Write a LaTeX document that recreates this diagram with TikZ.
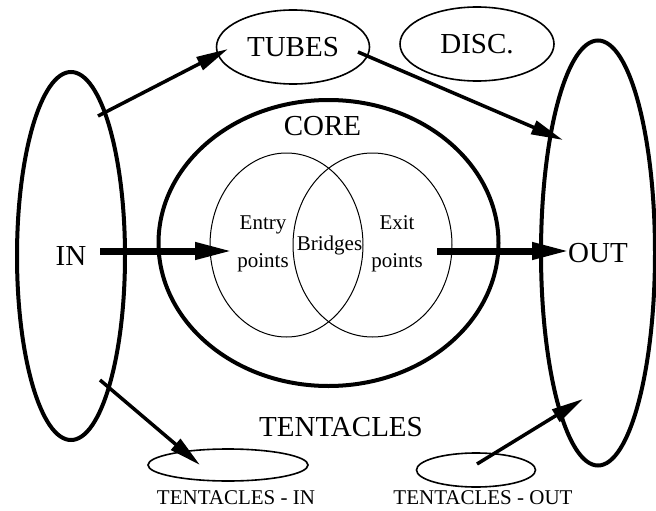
\documentclass[tikz,border=0pt]{standalone}
\usepackage{fontspec}
\setmainfont{Liberation Serif}
\usetikzlibrary{shapes.geometric, arrows.meta, positioning}

\begin{document}
\begin{tikzpicture}[
  x=1pt, y=-1pt,
  every node/.style={font=\fontsize{29}{34}\selectfont},
  small/.style={font=\fontsize{21}{38}\selectfont, align=center},
  bigoval/.style={draw, ellipse, line width=4pt, inner sep=0pt},
  oval/.style={draw, ellipse, line width=1.6pt, inner sep=0pt},
  venn/.style={draw, ellipse, line width=1pt, inner sep=0pt},
  arrow/.style={-{Triangle[length=32pt, width=14pt]}, line width=3.5pt},
  fatarrow/.style={-{Triangle[length=38pt, width=16pt]}, line width=7pt},
]
\useasboundingbox (0,0) rectangle (656,511);

% the big sets
\node[bigoval, minimum width=108pt, minimum height=368pt] (in)   at (71,256)  {IN};
\node[bigoval, minimum width=114pt, minimum height=425pt] (out)  at (598,253) {OUT};
\node[bigoval, minimum width=340pt, minimum height=286pt] (core) at (328.5,243) {};
\node[below=15pt of core.north, xshift=-6pt] (corelbl) {CORE};

% inside the core
\node[venn, minimum width=153pt, minimum height=184pt] (entry) at (286.5,245) {};
\node[venn, minimum width=159pt, minimum height=184pt] (exit)  at (372.5,245) {};
\node[small] (entrylbl)  at (263,244) {Entry\\points};
\node[small] (bridges)   at (329.5,245) {Bridges};
\node[small] (exitlbl)   at (397,244) {Exit\\points};

% tubes and disconnected parts
\node[oval, minimum width=153pt, minimum height=74pt] (tubes) at (293,47) {TUBES};
\node[oval, minimum width=154pt, minimum height=74pt] (disc)  at (477,44) {DISC.};

% tentacles
\node (tentacles) at (341,427) {TENTACLES};
\node[oval, minimum width=160pt, minimum height=32pt] (tin)  at (228,465) {};
\node[oval, minimum width=119pt, minimum height=34pt] (tout) at (476,470) {};
\node[small, inner sep=0pt, below=9pt of tin, xshift=8pt] (tinlbl)  {TENTACLES - IN};
\node[small, inner sep=0pt, below=3pt of tout, xshift=7pt] (toutlbl) {TENTACLES - OUT};

\draw[arrow] ([shift={(27,-140)}]in.center) -- ([shift={(-65,2)}]tubes.center);
\draw[arrow] ([shift={(65,5)}]tubes.center) -- ([shift={(-35,-113)}]out.center);
\draw[fatarrow] ([shift={(29,-5)}]in.center) -- ([shift={(-53.5,6)}]entry.center);
\draw[fatarrow] ([shift={(64.5,6)}]exit.center) -- ([shift={(-28,-2)}]out.center);
\draw[arrow] ([shift={(29,124)}]in.center) -- ([shift={(-28,0)}]tin.center);
\draw[arrow] ([shift={(1,-6)}]tout.center) -- ([shift={(-15,146)}]out.center);

\end{tikzpicture}
\end{document}
